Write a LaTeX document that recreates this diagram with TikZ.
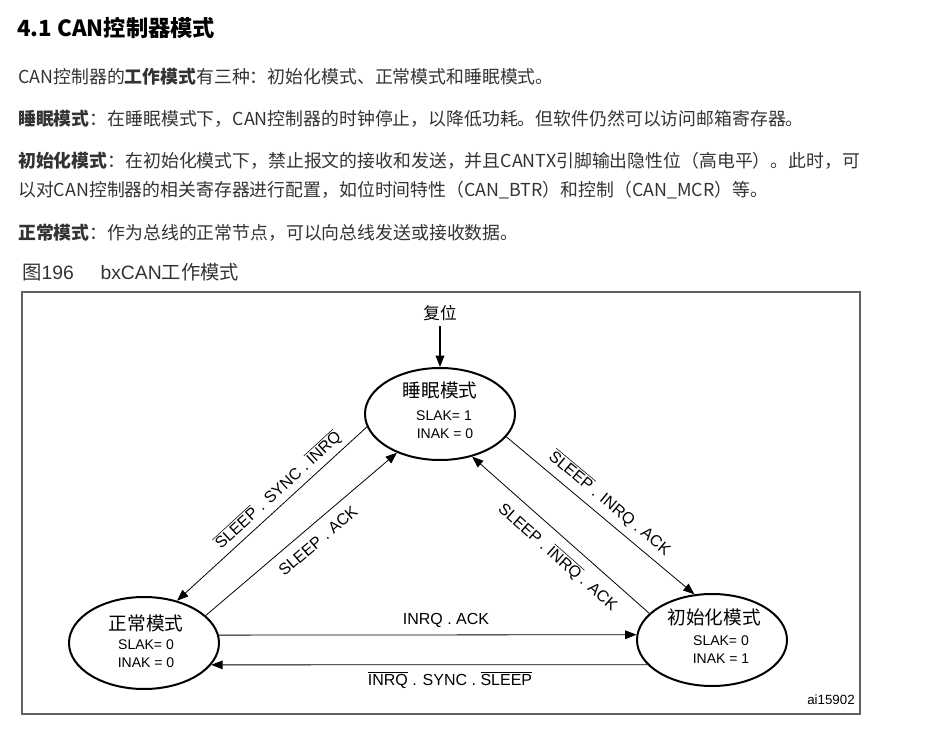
\documentclass[tikz,border=0pt]{standalone}
\usepackage{fontspec}
\setmainfont{Liberation Sans}
\newfontfamily\cjk{Noto Sans CJK SC}
\usepackage{xcolor}
\usepackage{tikz}
\usetikzlibrary{arrows.meta,shapes.geometric}
\definecolor{bodytext}{HTML}{333333}
\definecolor{framegray}{HTML}{606060}
\newcommand{\ovl}[1]{$\overline{\mbox{#1}}$}

\begin{document}
\begin{tikzpicture}[x=0.75pt,y=-0.75pt,
	para/.style={anchor=west,inner sep=0pt,text=bodytext,font=\cjk\fontsize{13.4}{15}\selectfont},
	mode/.style={draw,ellipse,line width=1.5pt,minimum width=112.5pt,minimum height=69pt,inner sep=0pt},
	modename/.style={inner sep=0pt,font=\cjk\fontsize{14}{16}\selectfont},
	flag/.style={inner sep=0pt,font=\fontsize{10.5}{12}\selectfont},
	cond/.style={inner sep=0pt,font=\fontsize{12}{14}\selectfont},
	arr/.style={-{Triangle[length=8.5pt,width=6.5pt]},line width=0.6pt}]
	\useasboundingbox (0,0) rectangle (926,732);
	\node[para,text=black,font=\cjk\bfseries\fontsize{16.7}{18}\selectfont] (title) at (17,28) {4.1 CAN控制器模式};
	\node[para] (intro) at (18,77) {CAN控制器的\textbf{工作模式}有三种：初始化模式、正常模式和睡眠模式。};
	\node[para] (sleeptxt) at (18,119) {\textbf{睡眠模式}：在睡眠模式下，CAN控制器的时钟停止，以降低功耗。但软件仍然可以访问邮箱寄存器。};
	\node[para] (inittxt) at (18,161) {\textbf{初始化模式}：在初始化模式下，禁止报文的接收和发送，并且CANTX引脚输出隐性位（高电平）。此时，可};
	\node[para] (inittxtb) at (18,190) {以对CAN控制器的相关寄存器进行配置，如位时间特性（CAN\_BTR）和控制（CAN\_MCR）等。};
	\node[para] (normtxt) at (18,233) {\textbf{正常模式}：作为总线的正常节点，可以向总线发送或接收数据。};
	\node[anchor=west,inner sep=0pt,text=bodytext,font=\fontsize{14.5}{16}\selectfont] (caption) at (22,272) {{\cjk 图}196\hspace{20pt}bxCAN{\cjk 工作模式}};
	
	\draw[framegray,line width=1.1pt] (22,292) rectangle (860,714);
	
	\node[inner sep=4pt,font=\cjk\fontsize{12.5}{14}\selectfont] (reset) at (440,313) {复位};
	\node[mode] (sleep) at (440,414) {};
	\node[mode] (normal) at (144,643) {};
	\node[mode] (init) at (712,640) {};
	
	\node[modename] (sleepname) at (440,390) {睡眠模式};
	\node[flag] (sleepslak) at (444,416) {SLAK= 1};
	\node[flag] (sleepinak) at (445,434) {INAK = 0};
	\node[modename] (normalname) at (146,623) {正常模式};
	\node[flag] (normalslak) at (146,645) {SLAK= 0};
	\node[flag] (normalinak) at (146,663) {INAK = 0};
	\node[modename] (initname) at (714,617) {初始化模式};
	\node[flag] (initslak) at (721,641) {SLAK= 0};
	\node[flag] (initinak) at (721,659) {INAK = 1};
	
	\draw[arr,line width=1pt] (reset) -- (sleep);
	\draw[arr] (sleep.190) -- (normal.52.5);
	\draw[arr] (normal.24) -- (sleep.222.3);
	\draw[arr] (sleep.-19) -- (init.111.6);
	\draw[arr] (init.157) -- (sleep.-53.1);
	\draw[arr] (normal.6.2) -- (init.176.2);
	\draw[arr] (init.201.6) -- (normal.-18.5);
	
	\node[cond,rotate=42.6] (sleeptonormal) at (278,490) {\ovl{SLEEP} . SYNC . \ovl{INRQ}};
	\node[cond,rotate=40.4] (normaltosleep) at (318,541) {SLEEP . ACK};
	\node[cond,rotate=-39.8] (sleeptoinit) at (610,503) {\ovl{SLEEP} . INRQ . ACK};
	\node[cond,rotate=-41.5] (inittosleep) at (558,557) {SLEEP . \ovl{INRQ} . ACK};
	\node[cond] (normaltoinit) at (446,620) {INRQ . ACK};
	\node[cond] (inittonormal) at (450,680) {\ovl{INRQ} . SYNC . \ovl{SLEEP}};
	
	\node[anchor=east,inner sep=0pt,font=\fontsize{10}{12}\selectfont] (figid) at (855,700) {ai15902};
\end{tikzpicture}
\end{document}
